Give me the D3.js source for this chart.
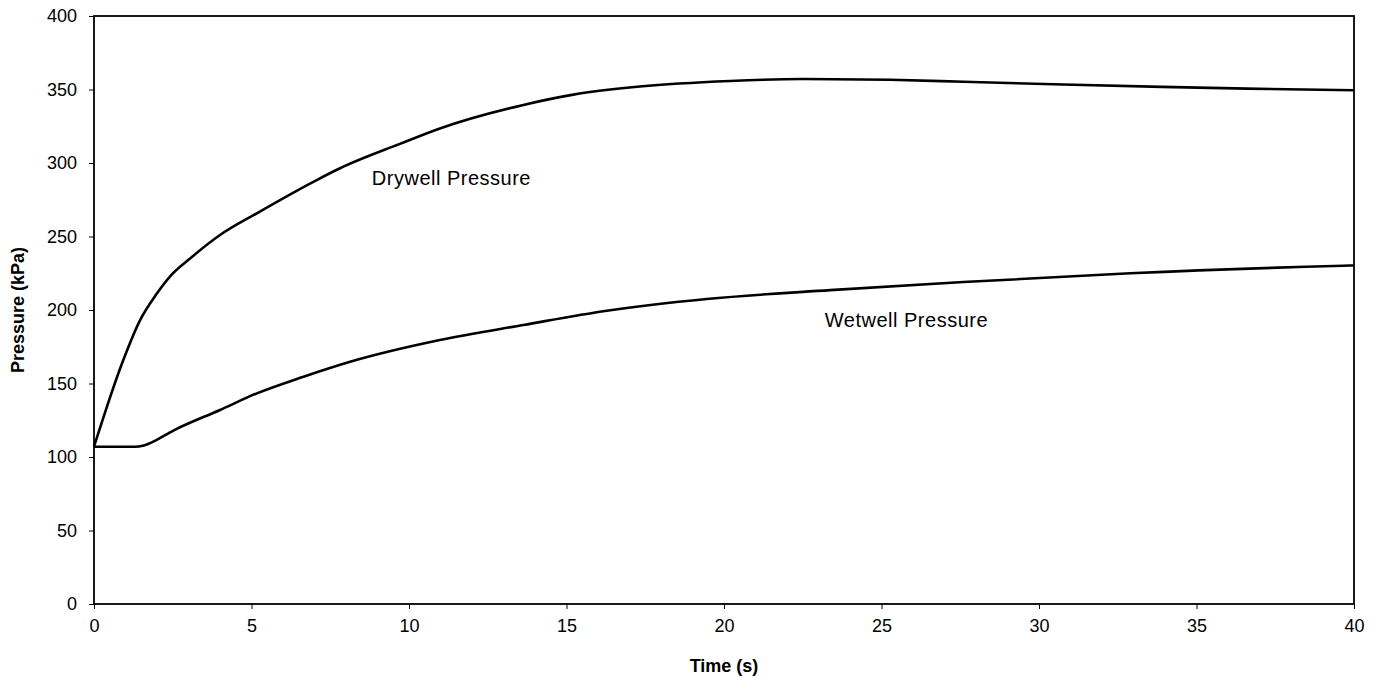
<!DOCTYPE html>
<html>
<head>
<meta charset="utf-8">
<script src="https://cdn.jsdelivr.net/npm/d3@7"></script>
<style>
  html, body { margin: 0; padding: 0; background: #fff; }
  svg text { font-family: Arial, "Liberation Sans", sans-serif; fill: #000; }
</style>
</head>
<body>
<svg id="chart" width="1380" height="687"></svg>
<script>
// ---- data ----
const drywellTime = [0, 0.93, 1.46, 1.99, 2.41, 3.05, 4.0, 5.17, 7.07, 7.81, 9.71, 10.98, 13.63, 15.22, 17.33, 20.19, 22.5, 25.27, 27.6, 30.76, 33.9, 36.6, 40];
const drywellPressure = [107, 166, 193, 211, 222.7, 235, 251, 265.8, 288.4, 296.4, 313, 323.5, 339.5, 346.5, 352, 355.8, 357.1, 356.6, 355.3, 353.4, 351.8, 350.6, 349.5];
const wetwellTime = [0, 1.3, 1.55, 1.8, 2.52, 4.0, 5.17, 6.65, 8.13, 10.98, 13.63, 16.28, 19.45, 23.37, 27.6, 32.9, 39.65, 40];
const wetwellPressure = [107, 107, 107.6, 109.6, 118, 132, 143.3, 154.6, 164.8, 179.6, 189.8, 199.5, 207.5, 213.5, 219, 225, 230.1, 230.3];
const xTicks = [0, 5, 10, 15, 20, 25, 30, 35, 40];
const yTicks = [0, 50, 100, 150, 200, 250, 300, 350, 400];
const seriesLabels = ["Drywell Pressure", "Wetwell Pressure"];
const labelPositions = [[8.82, 285], [23.2, 188.5]]; // data coords (time, pressure) of label left/baseline

const margin = {left: 94, right: 26, top: 16, bottom: 83};
const W = 1380, H = 687;
const svg = d3.select("#chart");
const x = d3.scaleLinear().domain([0, 40]).range([margin.left, W - margin.right]);
const y = d3.scaleLinear().domain([0, 400]).range([H - margin.bottom, margin.top]);

// axes
const xAxis = svg.append("g")
  .attr("transform", `translate(0,${y(0)})`)
  .call(d3.axisBottom(x).tickValues(xTicks).tickSize(5).tickPadding(10).tickFormat(d3.format("d")));
const yAxis = svg.append("g")
  .attr("transform", `translate(${x(0)},0)`)
  .call(d3.axisLeft(y).tickValues(yTicks).tickSize(5).tickPadding(12).tickFormat(d3.format("d")));
[xAxis, yAxis].forEach(g => {
  g.select(".domain").remove();
  g.selectAll(".tick line").attr("stroke", "#000").attr("stroke-width", 1);
  g.selectAll(".tick text").style("font-size", "18px").attr("fill", "#000");
});

// frame
svg.append("rect")
  .attr("x", x(0)).attr("y", y(400))
  .attr("width", x(40) - x(0)).attr("height", y(0) - y(400))
  .attr("fill", "none").attr("stroke", "#000").attr("stroke-width", 1.8);

// lines
const line = d3.line().x(d => x(d[0])).y(d => y(d[1])).curve(d3.curveMonotoneX);
const dry = drywellTime.map((t, i) => [t, drywellPressure[i]]);
const wet = wetwellTime.map((t, i) => [t, wetwellPressure[i]]);
[dry, wet].forEach(data => {
  svg.append("path").datum(data)
    .attr("d", line)
    .attr("fill", "none").attr("stroke", "#000").attr("stroke-width", 2.6)
    .attr("stroke-linejoin", "round");
});

// series labels
seriesLabels.forEach((lab, i) => {
  svg.append("text")
    .attr("x", x(labelPositions[i][0])).attr("y", y(labelPositions[i][1]))
    .style("font-size", "20px").style("letter-spacing", "0.5px")
    .text(lab);
});

// axis titles
svg.append("text")
  .attr("x", (x(0) + x(40)) / 2).attr("y", 672)
  .attr("text-anchor", "middle")
  .style("font-size", "18px").style("font-weight", "bold")
  .text("Time (s)");
svg.append("text")
  .attr("transform", `translate(24,${(y(0) + y(400)) / 2}) rotate(-90)`)
  .attr("text-anchor", "middle")
  .style("font-size", "18px").style("font-weight", "bold")
  .text("Pressure (kPa)");
</script>
</body>
</html>
